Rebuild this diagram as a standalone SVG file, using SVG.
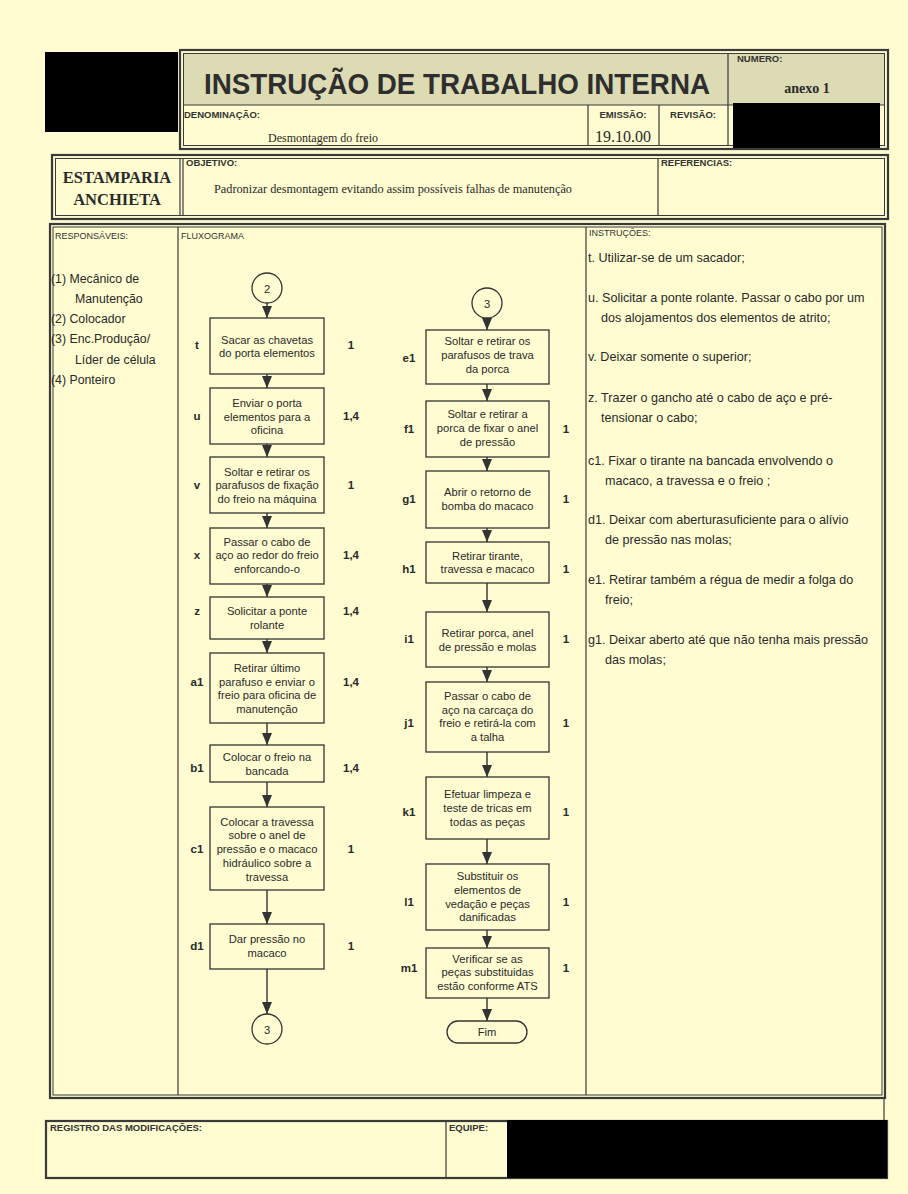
<svg xmlns="http://www.w3.org/2000/svg" width="908" height="1194" viewBox="0 0 908 1194">
<defs>
<marker id="ah" markerUnits="userSpaceOnUse" markerWidth="12" markerHeight="10" viewBox="0 0 12 10" refX="12" refY="5" orient="auto">
<path d="M0,0 L12,5 L0,10 z" fill="#333"/>
</marker>
<style>
.bg{fill:#fefcd0}
.frame{fill:none;stroke:#3a3a3a;stroke-width:2.2}
.thin{fill:none;stroke:#3a3a3a;stroke-width:1}
.div{stroke:#3a3a3a;stroke-width:1.2}
.shade{fill:#dcdbb4}
.redact{fill:#000}
.hd{font-family:"Liberation Sans",Arial,sans-serif;font-size:9.5px;font-weight:bold;fill:#333}
.hdr{font-family:"Liberation Sans",Arial,sans-serif;font-size:9px;fill:#333}
.title{font-family:"Liberation Sans",Arial,sans-serif;font-size:29px;font-weight:bold;fill:#2e2e2e}
.tm{font-family:"Liberation Serif","Times New Roman",serif;fill:#2a2a2a}
.box{fill:none;stroke:#333;stroke-width:1.3}
.ft{font-family:"Liberation Sans",Arial,sans-serif;font-size:11.2px;fill:#2a2a2a;text-anchor:middle}
.lb{font-family:"Liberation Sans",Arial,sans-serif;font-size:11.5px;font-weight:bold;fill:#2a2a2a;text-anchor:middle}
.nm{font-family:"Liberation Sans",Arial,sans-serif;font-size:11.5px;font-weight:bold;fill:#2a2a2a;text-anchor:middle}
.ins{font-family:"Liberation Sans",Arial,sans-serif;font-size:12.6px;fill:#2a2a2a}
.rs{font-family:"Liberation Sans",Arial,sans-serif;font-size:12.3px;fill:#2a2a2a}
.con{stroke:#333;stroke-width:1.4;fill:none;marker-end:url(#ah)}
</style>
</defs>
<rect class="bg" x="0" y="0" width="908" height="1194"/>

<!-- header -->
<g id="logo-redacted"><rect class="redact" x="45" y="52" width="133" height="80"/></g>
<g id="header">
<rect class="shade" x="184" y="54" width="701" height="51"/>
<rect class="frame" x="180" y="50" width="708" height="99"/>
<rect class="thin" x="183.5" y="53.5" width="701" height="92"/>
<line class="div" x1="184" y1="105" x2="885" y2="105"/>
<line class="div" x1="728" y1="54" x2="728" y2="146"/>
<line class="div" x1="588" y1="105" x2="588" y2="146"/>
<line class="div" x1="659" y1="105" x2="659" y2="146"/>
<text class="title" x="204" y="94" textLength="506" lengthAdjust="spacingAndGlyphs">INSTRUÇÃO DE TRABALHO INTERNA</text>
<text class="hd" x="737" y="62">NUMERO:</text>
<text class="tm" x="807" y="93" font-size="14" font-weight="bold" text-anchor="middle">anexo 1</text>
<text class="hd" x="184" y="118">DENOMINAÇÃO:</text>
<text class="tm" x="268" y="142" font-size="12">Desmontagem do freio</text>
<text class="hd" x="623" y="118" text-anchor="middle">EMISSÃO:</text>
<text class="tm" x="623" y="142" font-size="16" text-anchor="middle">19.10.00</text>
<text class="hd" x="693" y="118" text-anchor="middle">REVISÃO:</text>
<rect class="redact" x="733" y="103" width="147" height="45"/>
</g>

<g id="objective">
<rect class="frame" x="52" y="155" width="836" height="64"/>
<rect class="thin" x="55.5" y="158.5" width="829" height="57"/>
<line class="div" x1="180" y1="158" x2="180" y2="216"/>
<line class="div" x1="183" y1="158" x2="183" y2="216"/>
<line class="div" x1="658" y1="158" x2="658" y2="216"/>
<text class="tm" x="117" y="183" font-size="16.5" font-weight="bold" text-anchor="middle">ESTAMPARIA</text>
<text class="tm" x="117" y="205" font-size="16.5" font-weight="bold" text-anchor="middle">ANCHIETA</text>
<text class="hd" x="186" y="166">OBJETIVO:</text>
<text class="tm" x="214" y="193" font-size="12" textLength="358" lengthAdjust="spacingAndGlyphs">Padronizar desmontagem evitando assim possíveis falhas de manutenção</text>
<text class="hd" x="661" y="166">REFERENCIAS:</text>
</g>

<!-- main block -->
<g id="main-frame">
<rect class="frame" x="50" y="224" width="835" height="874"/>
<rect class="thin" x="53" y="227" width="829" height="868"/>
<line class="div" x1="178" y1="227" x2="178" y2="1095"/>
<line class="div" x1="586" y1="227" x2="586" y2="1095"/>
<line class="div" x1="884" y1="1098" x2="884" y2="1122"/>
<text class="hdr" x="55" y="239">RESPONSÁVEIS:</text>
<text class="hdr" x="181" y="239">FLUXOGRAMA</text>
<text class="hdr" x="589" y="236">INSTRUÇÕES:</text>
</g>

<g id="responsaveis">
<text class="rs" x="51" y="283">(1) Mecânico de</text>
<text class="rs" x="75" y="303">Manutenção</text>
<text class="rs" x="51" y="323">(2) Colocador</text>
<text class="rs" x="51" y="343">(3) Enc.Produção/</text>
<text class="rs" x="75" y="364">Líder de célula</text>
<text class="rs" x="51" y="384">(4) Ponteiro</text>
</g>

<g id="instrucoes">
<text class="ins" x="588" y="262">t. Utilizar-se de um sacador;</text>
<text class="ins" x="588" y="302">u. Solicitar a ponte rolante. Passar o cabo por um</text>
<text class="ins" x="601" y="322">dos alojamentos dos elementos de atrito;</text>
<text class="ins" x="588" y="361">v. Deixar somente o superior;</text>
<text class="ins" x="588" y="402">z. Trazer o gancho até o cabo de aço e pré-</text>
<text class="ins" x="601" y="422">tensionar o cabo;</text>
<text class="ins" x="588" y="465">c1. Fixar o tirante na bancada envolvendo o</text>
<text class="ins" x="605" y="485">macaco, a travessa e o freio ;</text>
<text class="ins" x="588" y="524">d1. Deixar com aberturasuficiente para o alívio</text>
<text class="ins" x="605" y="544">de pressão nas molas;</text>
<text class="ins" x="588" y="584">e1. Retirar também a régua de medir a folga do</text>
<text class="ins" x="605" y="604">freio;</text>
<text class="ins" x="588" y="644">g1. Deixar aberto até que não tenha mais pressão</text>
<text class="ins" x="605" y="664">das molas;</text>
</g>

<!-- connectors -->
<g id="connectors">
<line class="con" x1="267" y1="303" x2="267" y2="318"/>
<line class="con" x1="267" y1="374" x2="267" y2="388"/>
<line class="con" x1="267" y1="444" x2="267" y2="457"/>
<line class="con" x1="267" y1="513" x2="267" y2="528"/>
<line class="con" x1="267" y1="584" x2="267" y2="597"/>
<line class="con" x1="267" y1="639" x2="267" y2="653"/>
<line class="con" x1="267" y1="723" x2="267" y2="745"/>
<line class="con" x1="267" y1="782" x2="267" y2="807"/>
<line class="con" x1="267" y1="890" x2="267" y2="924"/>
<line class="con" x1="267" y1="969" x2="267" y2="1014"/>
<line class="con" x1="487" y1="318" x2="487" y2="330"/>
<line class="con" x1="487" y1="384" x2="487" y2="401"/>
<line class="con" x1="487" y1="457" x2="487" y2="471"/>
<line class="con" x1="487" y1="528" x2="487" y2="542"/>
<line class="con" x1="487" y1="583" x2="487" y2="612"/>
<line class="con" x1="487" y1="667" x2="487" y2="682"/>
<line class="con" x1="487" y1="752" x2="487" y2="777"/>
<line class="con" x1="487" y1="839" x2="487" y2="864"/>
<line class="con" x1="487" y1="930" x2="487" y2="948"/>
<line class="con" x1="487" y1="998" x2="487" y2="1021"/>
</g>

<!-- left column nodes -->
<g id="c2"><circle class="box" cx="267" cy="288" r="15"/><text class="ft" x="267" y="293" font-size="13">2</text></g>
<g id="n-t"><rect class="box" x="210" y="318" width="114" height="56"/>
<text class="ft" x="267" y="344">Sacar as chavetas</text><text class="ft" x="267" y="357">do porta elementos</text>
<text class="lb" x="197" y="349">t</text><text class="nm" x="351" y="349">1</text></g>
<g id="n-u"><rect class="box" x="210" y="388" width="114" height="56"/>
<text class="ft" x="267" y="407">Enviar o porta</text><text class="ft" x="267" y="421">elementos para a</text><text class="ft" x="267" y="434">oficina</text>
<text class="lb" x="197" y="420">u</text><text class="nm" x="351" y="420">1,4</text></g>
<g id="n-v"><rect class="box" x="210" y="457" width="114" height="56"/>
<text class="ft" x="267" y="476">Soltar e retirar os</text><text class="ft" x="267" y="489">parafusos de fixação</text><text class="ft" x="267" y="503">do freio na máquina</text>
<text class="lb" x="197" y="489">v</text><text class="nm" x="351" y="489">1</text></g>
<g id="n-x"><rect class="box" x="210" y="528" width="114" height="56"/>
<text class="ft" x="267" y="546">Passar o cabo de</text><text class="ft" x="267" y="559">aço ao redor do freio</text><text class="ft" x="267" y="573">enforcando-o</text>
<text class="lb" x="197" y="559">x</text><text class="nm" x="351" y="559">1,4</text></g>
<g id="n-z"><rect class="box" x="210" y="597" width="114" height="42"/>
<text class="ft" x="267" y="615">Solicitar a ponte</text><text class="ft" x="267" y="629">rolante</text>
<text class="lb" x="197" y="615">z</text><text class="nm" x="351" y="615">1,4</text></g>
<g id="n-a1"><rect class="box" x="210" y="653" width="114" height="70"/>
<text class="ft" x="267" y="672">Retirar último</text><text class="ft" x="267" y="686">parafuso e enviar o</text><text class="ft" x="267" y="699">freio para oficina de</text><text class="ft" x="267" y="713">manutenção</text>
<text class="lb" x="197" y="686">a1</text><text class="nm" x="351" y="686">1,4</text></g>
<g id="n-b1"><rect class="box" x="210" y="745" width="114" height="37"/>
<text class="ft" x="267" y="761">Colocar o freio na</text><text class="ft" x="267" y="775">bancada</text>
<text class="lb" x="197" y="772">b1</text><text class="nm" x="351" y="772">1,4</text></g>
<g id="n-c1"><rect class="box" x="210" y="807" width="114" height="83"/>
<text class="ft" x="267" y="826">Colocar a travessa</text><text class="ft" x="267" y="839">sobre o anel de</text><text class="ft" x="267" y="853">pressão e o macaco</text><text class="ft" x="267" y="867">hidráulico sobre a</text><text class="ft" x="267" y="881">travessa</text>
<text class="lb" x="197" y="853">c1</text><text class="nm" x="351" y="853">1</text></g>
<g id="n-d1"><rect class="box" x="210" y="924" width="114" height="45"/>
<text class="ft" x="267" y="943">Dar pressão no</text><text class="ft" x="267" y="957">macaco</text>
<text class="lb" x="197" y="950">d1</text><text class="nm" x="351" y="950">1</text></g>
<g id="c3-out"><circle class="box" cx="267" cy="1029" r="15"/><text class="ft" x="267" y="1034" font-size="13">3</text></g>

<!-- right column nodes -->
<g id="c3-in"><circle class="box" cx="487" cy="303" r="15"/><text class="ft" x="487" y="308" font-size="13">3</text></g>
<g id="n-e1"><rect class="box" x="426" y="330" width="123" height="54"/>
<text class="ft" x="487.5" y="345">Soltar e retirar os</text><text class="ft" x="487.5" y="359">parafusos de trava</text><text class="ft" x="487.5" y="373">da porca</text>
<text class="lb" x="409" y="362">e1</text></g>
<g id="n-f1"><rect class="box" x="426" y="401" width="123" height="56"/>
<text class="ft" x="487.5" y="418">Soltar e retirar a</text><text class="ft" x="487.5" y="432">porca de fixar o anel</text><text class="ft" x="487.5" y="446">de pressão</text>
<text class="lb" x="409" y="433">f1</text><text class="nm" x="566" y="433">1</text></g>
<g id="n-g1"><rect class="box" x="426" y="471" width="123" height="57"/>
<text class="ft" x="487.5" y="496">Abrir o retorno de</text><text class="ft" x="487.5" y="510">bomba do macaco</text>
<text class="lb" x="409" y="503">g1</text><text class="nm" x="566" y="503">1</text></g>
<g id="n-h1"><rect class="box" x="426" y="542" width="123" height="41"/>
<text class="ft" x="487.5" y="560">Retirar tirante,</text><text class="ft" x="487.5" y="573">travessa e macaco</text>
<text class="lb" x="409" y="573">h1</text><text class="nm" x="566" y="573">1</text></g>
<g id="n-i1"><rect class="box" x="426" y="612" width="123" height="55"/>
<text class="ft" x="487.5" y="637">Retirar porca, anel</text><text class="ft" x="487.5" y="651">de pressão e molas</text>
<text class="lb" x="409" y="643">i1</text><text class="nm" x="566" y="643">1</text></g>
<g id="n-j1"><rect class="box" x="426" y="682" width="123" height="70"/>
<text class="ft" x="487.5" y="700">Passar o cabo de</text><text class="ft" x="487.5" y="714">aço na carcaça do</text><text class="ft" x="487.5" y="727">freio e retirá-la com</text><text class="ft" x="487.5" y="741">a talha</text>
<text class="lb" x="409" y="727">j1</text><text class="nm" x="566" y="727">1</text></g>
<g id="n-k1"><rect class="box" x="426" y="777" width="123" height="62"/>
<text class="ft" x="487.5" y="798">Efetuar limpeza e</text><text class="ft" x="487.5" y="812">teste de tricas em</text><text class="ft" x="487.5" y="826">todas as peças</text>
<text class="lb" x="409" y="816">k1</text><text class="nm" x="566" y="816">1</text></g>
<g id="n-l1"><rect class="box" x="426" y="864" width="123" height="66"/>
<text class="ft" x="487.5" y="880">Substituir os</text><text class="ft" x="487.5" y="894">elementos de</text><text class="ft" x="487.5" y="908">vedação e peças</text><text class="ft" x="487.5" y="921">danificadas</text>
<text class="lb" x="409" y="906">l1</text><text class="nm" x="566" y="906">1</text></g>
<g id="n-m1"><rect class="box" x="426" y="948" width="123" height="50"/>
<text class="ft" x="487.5" y="963">Verificar se as</text><text class="ft" x="487.5" y="976">peças substituidas</text><text class="ft" x="487.5" y="990">estão conforme ATS</text>
<text class="lb" x="409" y="972">m1</text><text class="nm" x="566" y="972">1</text></g>
<g id="fim"><rect class="box" x="447" y="1021" width="80" height="22" rx="11"/><text class="ft" x="487" y="1036">Fim</text></g>

<!-- footer -->
<g id="footer">
<rect class="frame" x="46" y="1121" width="841" height="57"/>
<line class="div" x1="446" y1="1121" x2="446" y2="1178"/>
<text class="hd" x="50" y="1131">REGISTRO DAS MODIFICAÇÕES:</text>
<text class="hd" x="449" y="1131">EQUIPE:</text>
<rect class="redact" x="507" y="1120" width="380" height="58"/>
</g>
</svg>
